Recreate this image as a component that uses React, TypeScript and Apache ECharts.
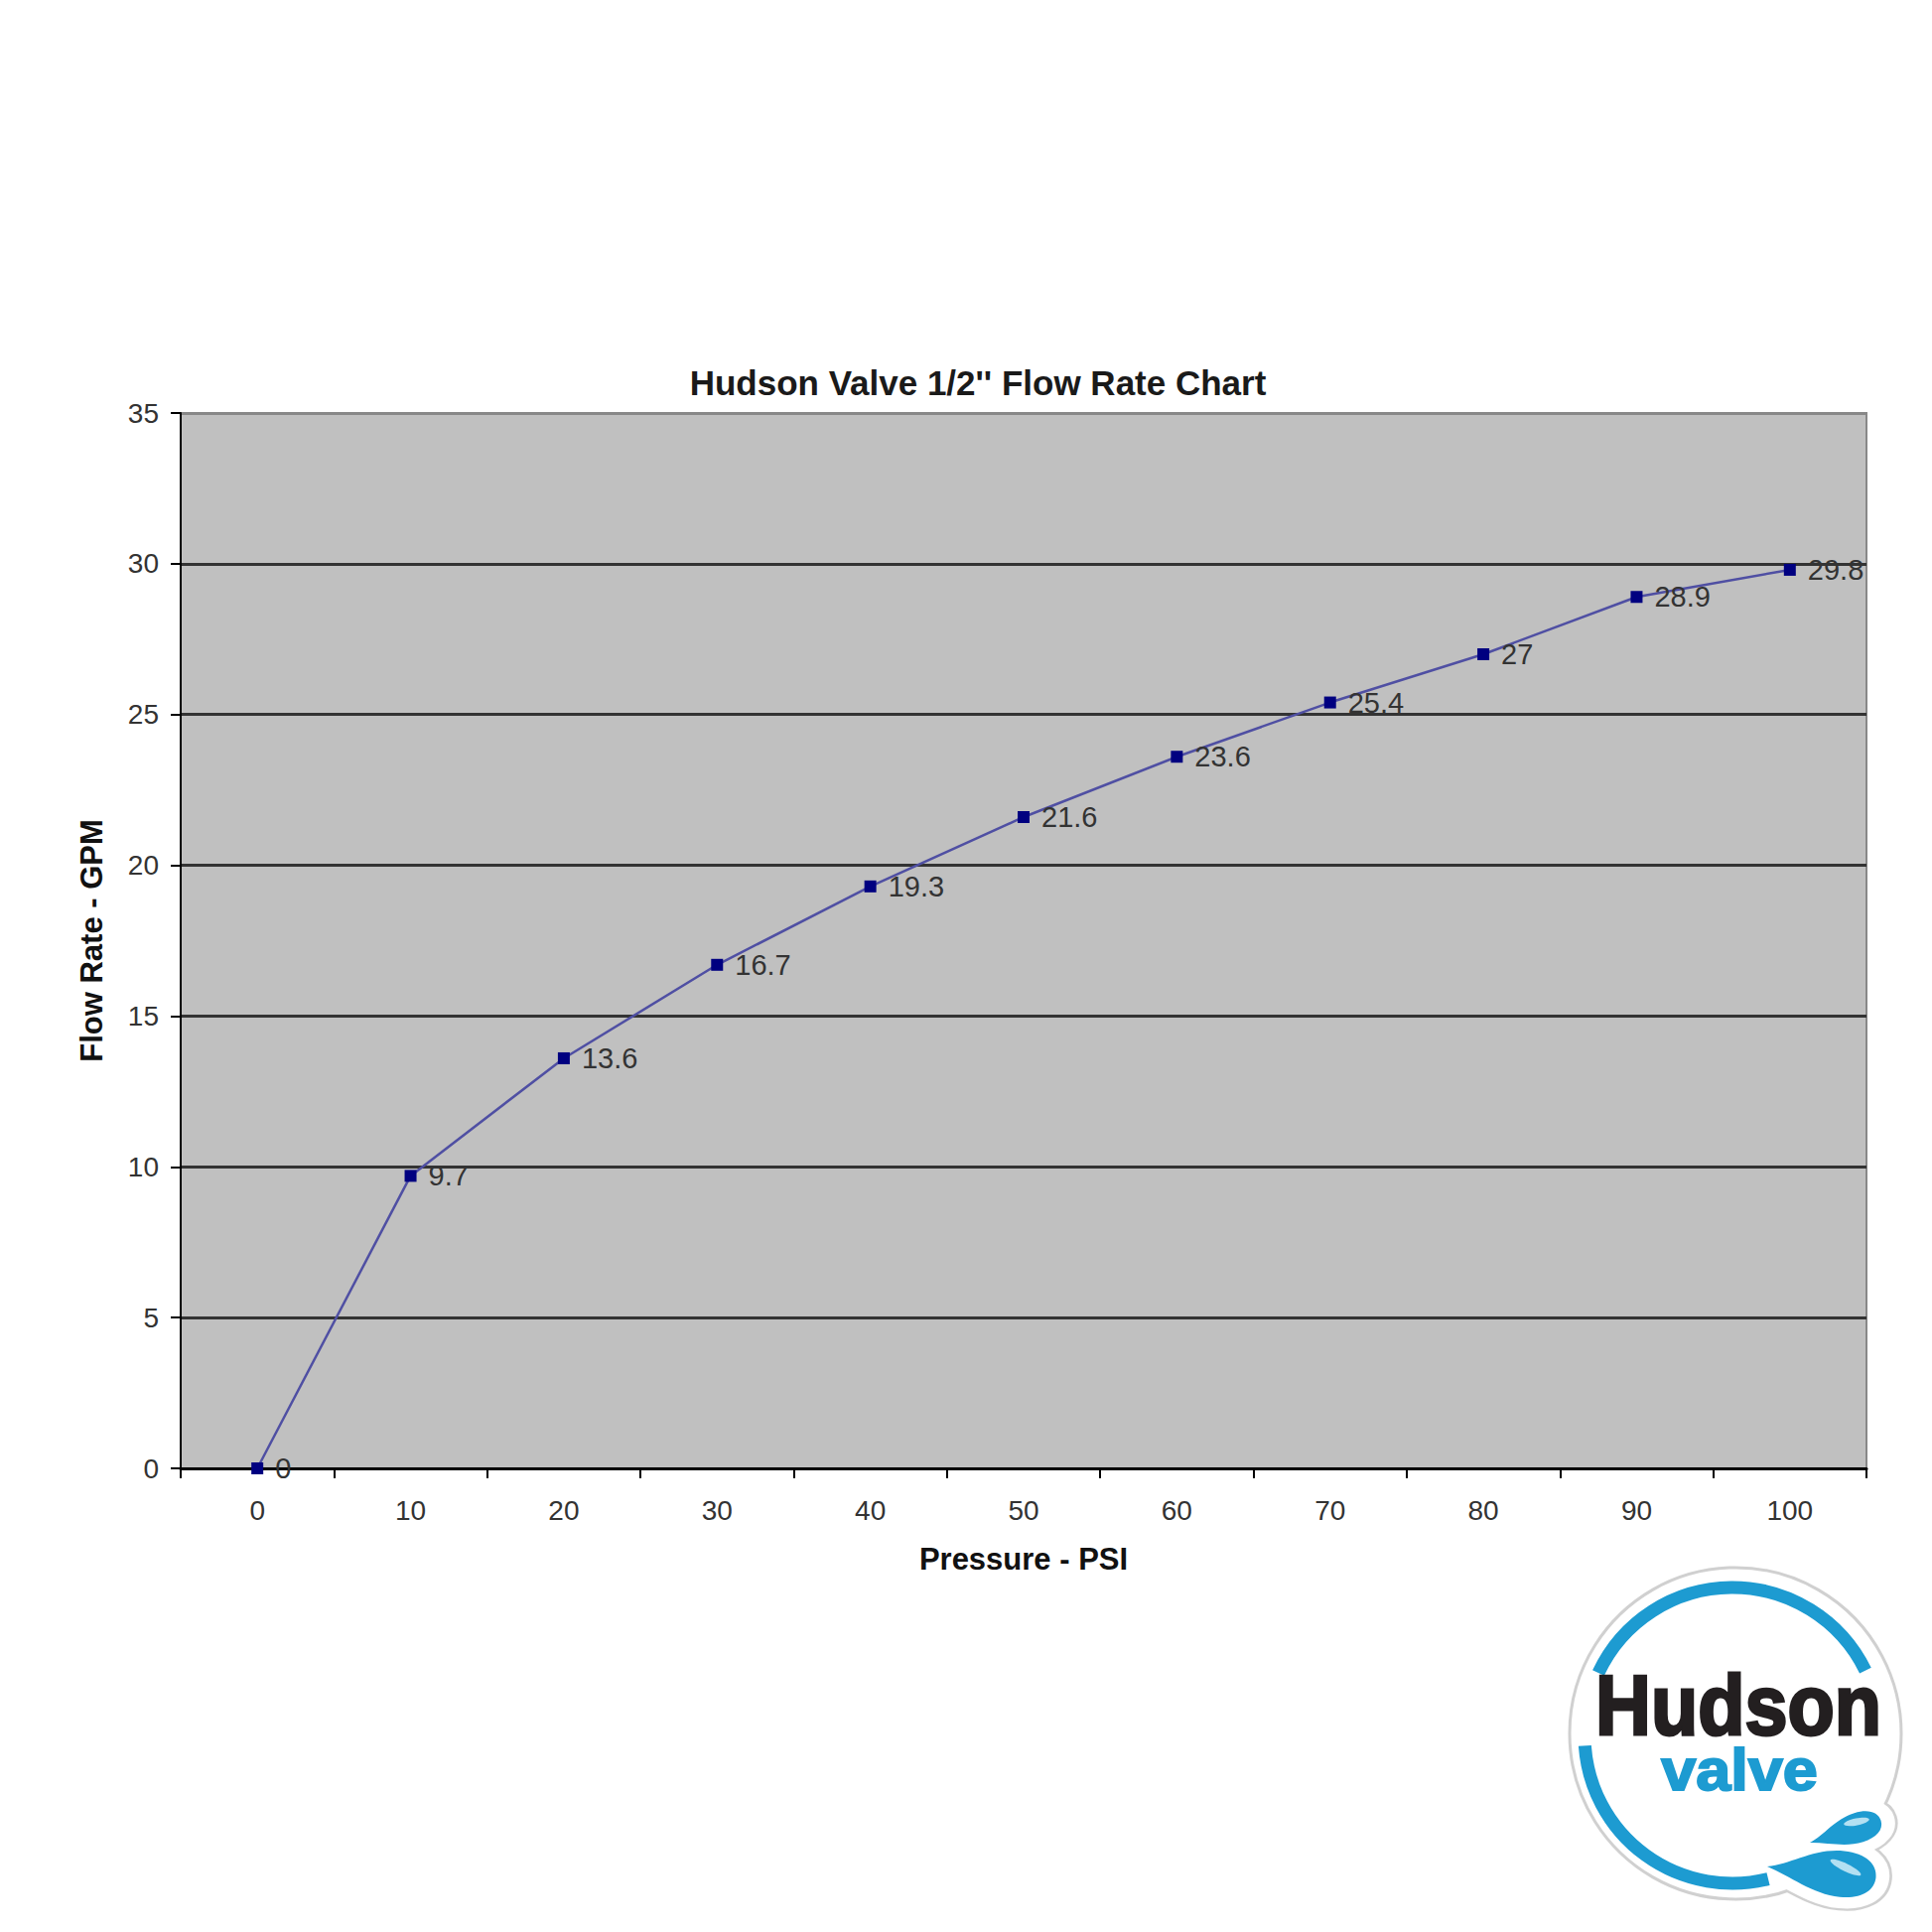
import React, { useEffect, useRef } from "react";
import * as echarts from "echarts";

const titleText = "Hudson Valve 1/2'' Flow Rate Chart";
const xAxisName = "Pressure - PSI";
const yAxisName = "Flow Rate - GPM";
const pressureCategories = ["0", "10", "20", "30", "40", "50", "60", "70", "80", "90", "100"];
const flowValues = [0, 9.7, 13.6, 16.7, 19.3, 21.6, 23.6, 25.4, 27, 28.9, 29.8];
const yMin = 0;
const yMax = 35;
const yInterval = 5;
const logoWord1 = "Hudson";
const logoWord2 = "valve";

const FONT = '"Liberation Sans", Arial, sans-serif';
const BLUE = "#1d9bd1";
const DROP_D =
  "M0,0 C14,-3 26,-16 44,-16 C57,-16 64,-9 64,0 C64,10 56,16 44,16 C28,16 14,5 0,0 Z";

let registered = false;
function registerShapes() {
  if (registered) return;
  echarts.graphic.registerShape("drop", echarts.graphic.extendPath(DROP_D, {}) as any);
  registered = true;
}

const deg = (d: number) => (d * Math.PI) / 180;

function dropEl(x: number, y: number, sx: number, sy: number, rot: number, style: any) {
  return { type: "drop", x, y, scaleX: sx, scaleY: sy, rotation: rot, style };
}

export default function App() {
  const ref = useRef<HTMLDivElement>(null);
  useEffect(() => {
    if (!ref.current) return;
    registerShapes();
    const chart = echarts.init(ref.current, null, { renderer: "svg" });
    const lowerDrop = [1780, 1880, 1.72, 1.45, -0.1];
    const upperDrop = [1823, 1856, 1.17, 0.95, 0.3];
    const mkDrops = (style: any) => [
      dropEl(lowerDrop[0], lowerDrop[1], lowerDrop[2], lowerDrop[3], lowerDrop[4], style),
      dropEl(upperDrop[0], upperDrop[1], upperDrop[2], upperDrop[3], upperDrop[4], style),
    ];
    const splitColors = ["#333", "#333", "#333", "#333", "#333", "#333", "#333", "#888"];
    chart.setOption({
      animation: false,
      backgroundColor: "#ffffff",
      title: {
        text: titleText,
        left: 980,
        top: 363,
        textAlign: "center",
        textStyle: { fontFamily: FONT, fontSize: 35, fontWeight: "bold", color: "#1a1a1a" },
      },
      grid: {
        left: 182,
        top: 416,
        width: 1698,
        height: 1063,
        show: true,
        backgroundColor: "#c0c0c0",
        borderColor: "#888",
        borderWidth: 2,
      },
      xAxis: {
        type: "category",
        data: pressureCategories,
        boundaryGap: true,
        name: xAxisName,
        nameLocation: "middle",
        nameGap: 76,
        nameTextStyle: { fontFamily: FONT, fontSize: 31, fontWeight: "bold", color: "#111" },
        axisLine: { show: true, lineStyle: { color: "#000", width: 3 } },
        axisTick: { show: true, length: 10, lineStyle: { color: "#000", width: 2 } },
        axisLabel: { fontFamily: FONT, fontSize: 28, color: "#333", margin: 28 },
        splitLine: { show: false },
      },
      yAxis: {
        type: "value",
        min: yMin,
        max: yMax,
        interval: yInterval,
        name: yAxisName,
        nameLocation: "middle",
        nameGap: 74,
        nameRotate: 90,
        nameTextStyle: { fontFamily: FONT, fontSize: 31, fontWeight: "bold", color: "#111" },
        axisLine: { show: true, lineStyle: { color: "#000", width: 2 } },
        axisTick: { show: true, length: 10, lineStyle: { color: "#000", width: 2 } },
        axisLabel: { fontFamily: FONT, fontSize: 28, color: "#333", margin: 22 },
        splitLine: { show: true, lineStyle: { color: splitColors, width: 3 } },
      },
      series: [
        {
          type: "line",
          data: flowValues,
          symbol: "rect",
          symbolSize: 12,
          itemStyle: { color: "#000080" },
          lineStyle: { color: "#4f4fa3", width: 2.5 },
          label: {
            show: true,
            position: "right",
            distance: 12,
            fontFamily: FONT,
            fontSize: 29,
            color: "#333",
          },
          z: 5,
        },
      ],
      graphic: [
        ...mkDrops({ fill: "#d0d0d0", stroke: "#d0d0d0", lineWidth: 30, strokeNoScale: true }),
        {
          type: "circle",
          shape: { cx: 1748, cy: 1746, r: 167 },
          style: { fill: "#ffffff", stroke: "#d0d0d0", lineWidth: 3 },
        },
        ...mkDrops({ fill: "#ffffff", stroke: "#ffffff", lineWidth: 25, strokeNoScale: true }),
        {
          type: "arc",
          shape: { cx: 1745, cy: 1748, r: 149, startAngle: deg(-155), endAngle: deg(-26), clockwise: true },
          style: { stroke: BLUE, lineWidth: 13, fill: "none" },
        },
        {
          type: "arc",
          shape: { cx: 1745, cy: 1748, r: 149, startAngle: deg(76), endAngle: deg(176), clockwise: true },
          style: { stroke: BLUE, lineWidth: 13, fill: "none" },
        },
        ...mkDrops({ fill: BLUE }),
        {
          type: "ellipse",
          x: 1870,
          y: 1835,
          rotation: 0.2,
          shape: { cx: 0, cy: 0, rx: 13, ry: 3.5 },
          style: { fill: "#b3e0f2" },
        },
        {
          type: "ellipse",
          x: 1859,
          y: 1881,
          rotation: -0.45,
          shape: { cx: 0, cy: 0, rx: 17, ry: 4 },
          style: { fill: "#b3e0f2" },
        },
        {
          type: "text",
          x: 1751,
          y: 1717,
          scaleX: 0.9,
          style: {
            text: logoWord1,
            x: 0,
            y: 0,
            fill: "#231f20",
            stroke: "#231f20",
            lineWidth: 3,
            font: `900 86px ${FONT}`,
            textAlign: "center",
            textVerticalAlign: "middle",
          },
        },
        {
          type: "text",
          x: 1752,
          y: 1782,
          scaleX: 1.05,
          style: {
            text: logoWord2,
            x: 0,
            y: 0,
            fill: BLUE,
            stroke: BLUE,
            lineWidth: 2,
            font: `bold 60px ${FONT}`,
            textAlign: "center",
            textVerticalAlign: "middle",
          },
        },
      ],
    });
    return () => chart.dispose();
  }, []);
  return (
    <div
      ref={ref}
      style={{ position: "absolute", left: 0, top: 0, width: 1946, height: 1946, background: "#fff" }}
    />
  );
}
